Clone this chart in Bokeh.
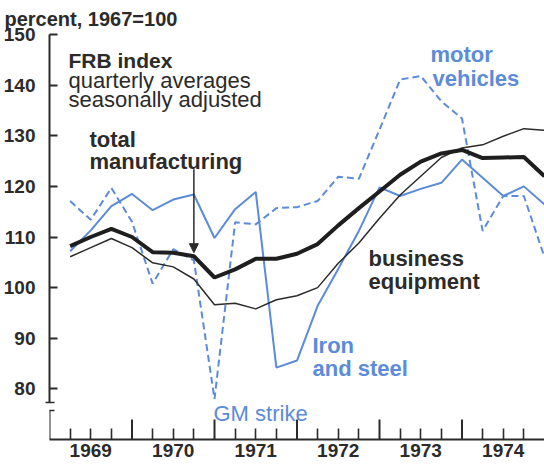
from bokeh.plotting import figure
from bokeh.models import FixedTicker, Label, Arrow, NormalHead, LinearAxis
from bokeh.embed import file_html
from bokeh.resources import INLINE

# ---------------- data (quarterly averages, 1967=100) ----------------
quarters = ["1969 Q1", "1969 Q2", "1969 Q3", "1969 Q4",
            "1970 Q1", "1970 Q2", "1970 Q3", "1970 Q4",
            "1971 Q1", "1971 Q2", "1971 Q3", "1971 Q4",
            "1972 Q1", "1972 Q2", "1972 Q3", "1972 Q4",
            "1973 Q1", "1973 Q2", "1973 Q3", "1973 Q4",
            "1974 Q1", "1974 Q2", "1974 Q3", "1974 Q4"]

total_manufacturing = [108.2, 110.0, 111.6, 110.0,
                       107.0, 106.9, 106.2, 102.0,
                       103.6, 105.7, 105.7, 106.7,
                       108.6, 112.3, 115.7, 119.0,
                       122.3, 124.9, 126.5, 127.2,
                       125.6, 125.7, 125.8, 122.0]

business_equipment = [106.1, 107.9, 109.7, 107.9,
                      104.9, 104.1, 101.7, 96.6,
                      96.9, 95.8, 97.6, 98.4,
                      100.0, 104.8, 108.8, 113.7,
                      118.3, 122.0, 125.7, 127.6,
                      128.2, 129.9, 131.4, 131.1]

iron_and_steel = [107.2, 111.3, 116.1, 118.5,
                  115.3, 117.4, 118.4, 109.8,
                  115.5, 118.9, 84.2, 85.6,
                  96.4, 103.7, 111.2, 119.8,
                  118.1, 119.5, 120.7, 125.3,
                  121.7, 118.1, 120.0, 116.4]

motor_vehicles = [117.1, 113.4, 119.7, 113.0,
                  100.8, 107.6, 105.4, 78.0,
                  112.9, 112.5, 115.7, 115.9,
                  117.1, 121.9, 121.5, 131.2,
                  141.1, 141.8, 136.8, 133.4,
                  111.2, 118.1, 118.1, 106.0]

years = [1969, 1970, 1971, 1972, 1973, 1974]
year_labels = ["1969", "1970", "1971", "1972", "1973", "1974"]
y_ticks = [80, 90, 100, 110, 120, 130, 140, 150]

# each quarterly average plotted at the end of its quarter
x = [int(q[:4]) + int(q[-1]) * 0.25 for q in quarters]

# ---------------- styling ----------------
BLUE = "#5b8bd9"
DARK = "#2b2b2b"
FONT = "Liberation Sans"

W, H = 544, 465
LEFT, TOP, BOTTOM = 49, 33, 26
X0, X1 = 1969, 1975
Y0, Y1 = 70, 150
FRAME_W = W - LEFT
FRAME_H = H - TOP - BOTTOM


def dx(px):
    """canvas pixel x -> data x (annotation placement)"""
    return X0 + (px - LEFT) * (X1 - X0) / FRAME_W


def dy(py):
    """canvas pixel y -> data y (annotation placement)"""
    return Y1 - (py - TOP) * (Y1 - Y0) / FRAME_H


BREAK_TOP = dy(402)
BREAK_BOT = dy(410)

p = figure(width=W, height=H, x_range=(X0, X1), y_range=(Y0, Y1),
           output_backend="svg", toolbar_location=None,
           min_border_left=LEFT, min_border_right=0,
           min_border_top=TOP, min_border_bottom=BOTTOM)
p.outline_line_color = None
p.grid.visible = False
p.background_fill_color = "white"
p.border_fill_color = "white"

# unit note as the title, pulled to the left edge
p.title.text = "percent, 1967=100"
p.title.align = "left"
p.title.offset = -45
p.title.standoff = 10
p.title.text_line_height = 0.9
p.title.text_font = FONT
p.title.text_font_size = "20px"
p.title.text_font_style = "bold"
p.title.text_color = DARK

# y axis (upper part, stops at the break)
ya = p.yaxis[0]
ya.ticker = FixedTicker(ticks=y_ticks, minor_ticks=[BREAK_TOP])
ya.bounds = (BREAK_TOP, Y1)
ya.axis_line_width = 2
ya.axis_line_color = DARK
ya.major_tick_in = 8
ya.major_tick_out = 0
ya.major_tick_line_width = 2
ya.major_tick_line_color = DARK
ya.minor_tick_in = 5
ya.minor_tick_out = 4
ya.minor_tick_line_width = 1.5
ya.minor_tick_line_color = DARK
ya.major_label_text_font = FONT
ya.major_label_text_font_size = "19px"
ya.major_label_text_font_style = "bold"
ya.major_label_text_color = DARK
ya.major_label_standoff = 10

# lower stub of the y axis below the break
ya2 = LinearAxis(fixed_location=X0, bounds=(Y0, BREAK_BOT),
                 ticker=FixedTicker(ticks=[], minor_ticks=[BREAK_BOT]),
                 axis_line_width=2, axis_line_color=DARK,
                 major_tick_in=0, major_tick_out=0,
                 minor_tick_in=5, minor_tick_out=4,
                 minor_tick_line_width=1.5, minor_tick_line_color=DARK)
p.add_layout(ya2, "left")

# x axis: year labels centred in each year, quarter ticks inside
xa = p.xaxis[0]
mid_years = [yr + 0.5 for yr in years]
quarter_ticks = [yr + f for yr in years for f in (0.25, 0.5, 0.75)]
xa.ticker = FixedTicker(ticks=mid_years, minor_ticks=quarter_ticks)
xa.major_label_overrides = {m: lab for m, lab in zip(mid_years, year_labels)}
xa.axis_line_width = 2
xa.axis_line_color = DARK
xa.major_tick_in = 0
xa.major_tick_out = 0
xa.minor_tick_in = 11
xa.minor_tick_out = 0
xa.minor_tick_line_width = 1.6
xa.minor_tick_line_color = DARK
xa.major_label_text_font = FONT
xa.major_label_text_font_size = "19px"
xa.major_label_text_font_style = "bold"
xa.major_label_text_color = DARK
xa.major_label_standoff = 4

# taller ticks at the year boundaries
tick_len = 20 * (Y1 - Y0) / FRAME_H
p.segment(x0=years[1:], y0=[Y0] * 5, x1=years[1:], y1=[Y0 + tick_len] * 5,
          line_color=DARK, line_width=2)

# ---------------- series ----------------
p.line(x, motor_vehicles, line_color=BLUE, line_width=2, line_dash="7 4")
p.line(x, iron_and_steel, line_color=BLUE, line_width=2)
p.line(x, business_equipment, line_color=DARK, line_width=1.5)
p.line(x, total_manufacturing, line_color="#1e1e1e", line_width=4)

# ---------------- annotations ----------------
def add_text(txt, px, py, size, bold, color, align="left"):
    p.add_layout(Label(x=dx(px), y=dy(py), text=txt, text_font=FONT,
                       text_font_size=f"{size}px",
                       text_font_style="bold" if bold else "normal",
                       text_color=color, text_align=align,
                       text_baseline="alphabetic"))


add_text("FRB index", 68, 59, 21, True, DARK)
add_text("quarterly averages", 68, 79, 22, False, DARK)
add_text("seasonally adjusted", 68, 98, 22, False, DARK)
add_text("total", 89, 138, 22, True, DARK)
add_text("manufacturing", 89, 160, 22, True, DARK)
add_text("motor", 430, 53, 22, True, BLUE)
add_text("vehicles", 432, 77, 22, True, BLUE)
add_text("business", 368, 258, 22, True, DARK)
add_text("equipment", 368, 281, 22, True, DARK)
add_text("Iron", 312, 345, 22, True, BLUE)
add_text("and steel", 312, 368, 22, True, BLUE)
add_text("GM strike", 213, 413, 22, False, BLUE)

# arrow pointing at total manufacturing
p.add_layout(Arrow(end=NormalHead(size=9, fill_color=DARK, line_color=DARK, line_width=1),
                   x_start=x[6], y_start=dy(168), x_end=x[6],
                   y_end=total_manufacturing[6] + 0.7,
                   line_color=DARK, line_width=1.5))

open("out.html", "w").write(file_html(p, INLINE))
